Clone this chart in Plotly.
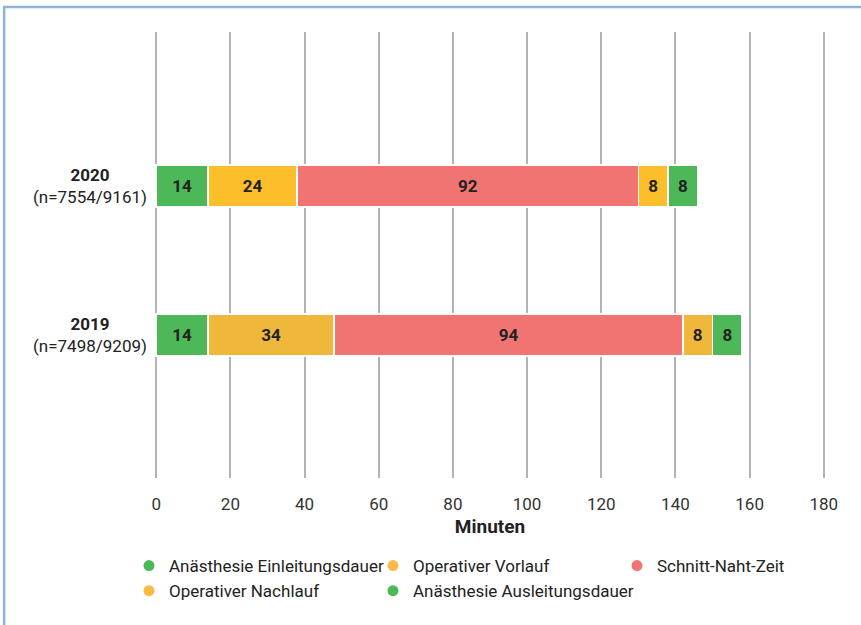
import plotly.graph_objects as go

years = ["2019", "2020"]
year_notes = ["(n=7498/9209)", "(n=7554/9161)"]
series = ["Anästhesie Einleitungsdauer", "Operativer Vorlauf", "Schnitt-Naht-Zeit",
          "Operativer Nachlauf", "Anästhesie Ausleitungsdauer"]
values = {
    "Anästhesie Einleitungsdauer": [14, 14],
    "Operativer Vorlauf": [34, 24],
    "Schnitt-Naht-Zeit": [94, 92],
    "Operativer Nachlauf": [8, 8],
    "Anästhesie Ausleitungsdauer": [8, 8],
}
bar_colors = {
    "Anästhesie Einleitungsdauer": ["#4CB857", "#4CB857"],
    "Operativer Vorlauf": ["#EFB83A", "#FDBE2C"],
    "Schnitt-Naht-Zeit": ["#F27472", "#F27472"],
    "Operativer Nachlauf": ["#EFB83A", "#FDBE2C"],
    "Anästhesie Ausleitungsdauer": ["#4CB857", "#4CB857"],
}
legend_colors = ["#4CB857", "#FDBA45", "#F27472", "#FDBA45", "#4CB857"]
x_ticks = [0, 20, 40, 60, 80, 100, 120, 140, 160, 180]

FONT = "Roboto, Open Sans, sans-serif"

fig = go.Figure()
for name in series:
    fig.add_trace(go.Bar(
        y=years, x=values[name], orientation="h", name=name,
        marker=dict(color=bar_colors[name], line=dict(color="white", width=1.5)),
        text=values[name], textposition="inside", insidetextanchor="middle",
        textangle=0, constraintext="none",
        textfont=dict(family=FONT, size=17, color="#222222", weight="bold"),
        width=0.282, showlegend=False, hoverinfo="x+name",
    ))

for name, col in zip(series, legend_colors):
    fig.add_trace(go.Scatter(
        x=[None], y=[None], mode="markers", name=name,
        marker=dict(symbol="circle", size=11, color=col),
        showlegend=True,
    ))

for i, (yr, note) in enumerate(zip(years, year_notes)):
    fig.add_annotation(
        x=0, xref="paper", y=i, yref="y", xanchor="right", yanchor="middle",
        xshift=-5, align="center", showarrow=False,
        text=f"<b>{yr}</b><br>{note}",
        font=dict(family=FONT, size=17, color="#222222"),
    )

fig.add_shape(type="rect", xref="paper", yref="paper",
              x0=-0.223, x1=2, y0=-1, y1=1.056,
              line=dict(color="#8DB3DA", width=2.5), layer="below")

fig.update_layout(
    width=861, height=625,
    margin=dict(l=154, r=35, t=32, b=147),
    plot_bgcolor="white", paper_bgcolor="white",
    barmode="stack",
    font=dict(family=FONT, size=17, color="#222222"),
    xaxis=dict(
        range=[-0.6, 180.6], tickvals=x_ticks, showgrid=True,
        gridcolor="#B3B3B3", gridwidth=2, zeroline=False, showline=False,
        ticks="", ticklabelstandoff=14,
        tickfont=dict(family=FONT, size=17, color="#333333"),
        title=dict(text="<b>Minuten</b>", font=dict(family=FONT, size=19, color="#222222"),
                   standoff=6),
        fixedrange=True,
    ),
    yaxis=dict(
        type="category", categoryorder="array", categoryarray=years,
        range=[-0.96, 2.034], showticklabels=False, showgrid=False,
        zeroline=False, showline=False, ticks="",
    ),
    legend=dict(
        orientation="h", x=-0.037, xanchor="left", y=-0.157, yanchor="top",
        entrywidth=199, entrywidthmode="pixels", traceorder="normal",
        font=dict(family=FONT, size=17, color="#222222"),
        itemclick=False, itemdoubleclick=False,
    ),
    showlegend=True,
)

fig.write_html("out.html")
